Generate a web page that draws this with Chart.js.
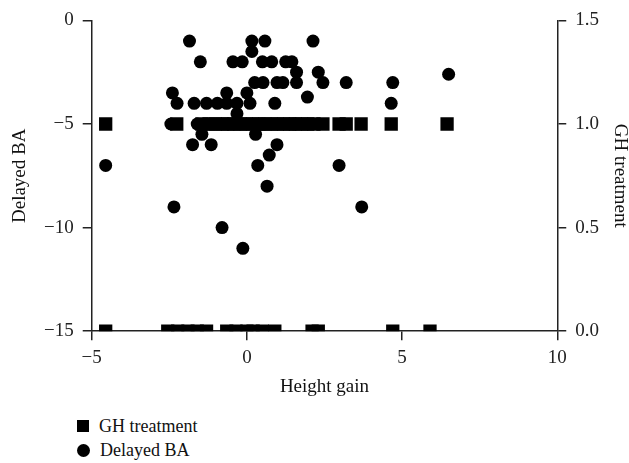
<!DOCTYPE html>
<html>
<head>
<meta charset="utf-8">
<script src="https://cdn.jsdelivr.net/npm/chart.js@4"></script>
<style>
  body { margin: 0; background: #fff; font-family: "Liberation Serif", serif; }
  #wrap { position: relative; width: 629px; height: 400px; }
  #legend { position: absolute; left: 77px; top: 414px; font-size: 18px; color: #111; }
  .item { height: 24px; line-height: 24px; display: flex; align-items: center; }
  .mark { width: 12px; height: 12px; background: #000; margin-right: 10px; }
  .mark.circle { border-radius: 50%; width: 13px; height: 13px; }
</style>
</head>
<body>
<div id="wrap"><canvas id="scatterChart"></canvas></div>
<div id="legend"></div>
<script>
// GH treatment (0 / 1) against height gain
const ghGain = [-4.55, -2.26, -1.45, -1.22, -1.02, -0.8, -0.62, -0.42, -0.22, -0.02, 0.18, 0.38, 0.58, 0.78, 0.98, 1.18, 1.38, 1.56, 1.76, 1.96, 2.16, 2.45, 2.97, 3.2, 3.68, 4.65, 6.45,
                -4.55, -2.55, -2.23, -1.9, -1.6, -1.3, -0.65, -0.35, 0.0, 0.2, 0.5, 0.9, 2.1, 2.3, 4.7, 5.9];
const ghTreatment = [1, 1, 1, 1, 1, 1, 1, 1, 1, 1, 1, 1, 1, 1, 1, 1, 1, 1, 1, 1, 1, 1, 1, 1, 1, 1, 1,
                     0, 0, 0, 0, 0, 0, 0, 0, 0, 0, 0, 0, 0, 0, 0, 0];

// Delayed BA against height gain
const baGain = [-4.55, -2.45, -2.35, -2.4, -2.25, -1.85, -1.75, -1.7, -1.5, -1.45, -1.3, -1.15, -0.95, -0.8, -0.65, -0.65, -0.45, -0.32, -0.32, -0.15, -0.13, 0.0, 0.1, 0.16, 0.16,
                0.25, 0.28, 0.35, 0.5, 0.52, 0.58, 0.65, 0.72, 0.8, 0.9, 0.97, 0.97, 1.16, 1.25, 1.45, 1.6, 1.6, 1.95, 2.13, 2.3, 2.45, 2.97, 3.2, 3.7, 4.65, 4.7, 6.5, -1.6, 0.5, 1.5];
const delayedBA = [-7, -5, -9, -3.5, -4, -1, -6, -4, -2, -5.5, -4, -6, -4, -10, -3.5, -4, -2, -4, -4.5, -2, -11, -3.5, -4, -1, -1.5,
                   -3, -5.5, -7, -2, -3, -1, -8, -6.5, -2, -4, -3, -6, -3, -2, -2, -2.5, -3, -3.7, -1, -2.5, -3, -7, -3, -9, -4, -3, -2.6, -5, -5, -5];

const xTicks = [-5, 0, 5, 10];
const baTicks = [-15, -10, -5, 0];
const ghTicks = [0, 0.5, 1, 1.5];

const serif = "'Liberation Serif', serif";
const minus = v => String(v).replace("-", "\u2212");

const axisBase = {
    border: { display: true, color: "#222", width: 1.5 },
    grid: { display: true, drawOnChartArea: false, drawTicks: true, tickLength: 9, color: "#222", lineWidth: 1.5 },
    ticks: { color: "#222", font: { family: serif, size: 19 }, padding: 9 },
};
const titleFont = { family: serif, size: 19, lineHeight: 1 };

const ctx = document.getElementById("scatterChart").getContext("2d");
new Chart(ctx, {
    type: "scatter",
    data: {
        datasets: [
            {
                label: "GH treatment",
                data: ghGain.map((x, i) => ({ x: x, y: ghTreatment[i] })),
                yAxisID: "y1",
                pointStyle: "rect",
                pointRadius: 9.4,
                pointHoverRadius: 9.4,
                borderWidth: 0,
                backgroundColor: "#000",
            },
            {
                label: "Delayed BA",
                data: baGain.map((x, i) => ({ x: x, y: delayedBA[i] })),
                yAxisID: "y",
                pointStyle: "circle",
                pointRadius: 6.5,
                pointHoverRadius: 6.5,
                borderWidth: 0,
                backgroundColor: "#000",
            },
        ],
    },
    options: {
        responsive: true,
        maintainAspectRatio: false,
        animation: false,
        layout: { padding: { top: 16, left: 11, right: 0, bottom: 0 } },
        scales: {
            x: {
                ...axisBase,
                type: "linear",
                min: -5,
                max: 10,
                afterBuildTicks: s => { s.ticks = xTicks.map(v => ({ value: v })); },
                ticks: { ...axisBase.ticks, padding: 6, callback: v => minus(v) },
                title: { display: true, text: "Height gain", color: "#111", font: titleFont, padding: { top: 3, bottom: 3 } },
            },
            y: {
                ...axisBase,
                position: "left",
                min: -15,
                max: 0,
                afterBuildTicks: s => { s.ticks = baTicks.map(v => ({ value: v })); },
                ticks: { ...axisBase.ticks, callback: v => minus(v) },
                title: { display: true, text: "Delayed BA", color: "#111", font: titleFont, padding: { top: 0, bottom: 5 } },
            },
            y1: {
                ...axisBase,
                position: "right",
                min: 0,
                max: 1.5,
                afterBuildTicks: s => { s.ticks = ghTicks.map(v => ({ value: v })); },
                ticks: { ...axisBase.ticks, callback: v => Number(v).toFixed(1) },
                title: { display: true, text: "GH treatment", color: "#111", font: titleFont, padding: { top: 0, bottom: 2 } },
            },
        },
        plugins: {
            legend: { display: false },
            tooltip: { enabled: false },
        },
    },
});

// legend under the chart, one entry per row
const legend = document.getElementById("legend");
[["GH treatment", "rect"], ["Delayed BA", "circle"]].forEach(([text, shape]) => {
    const row = document.createElement("div");
    row.className = "item";
    const mark = document.createElement("span");
    mark.className = "mark" + (shape === "circle" ? " circle" : "");
    row.appendChild(mark);
    row.appendChild(document.createTextNode(text));
    legend.appendChild(row);
});
</script>
</body>
</html>
